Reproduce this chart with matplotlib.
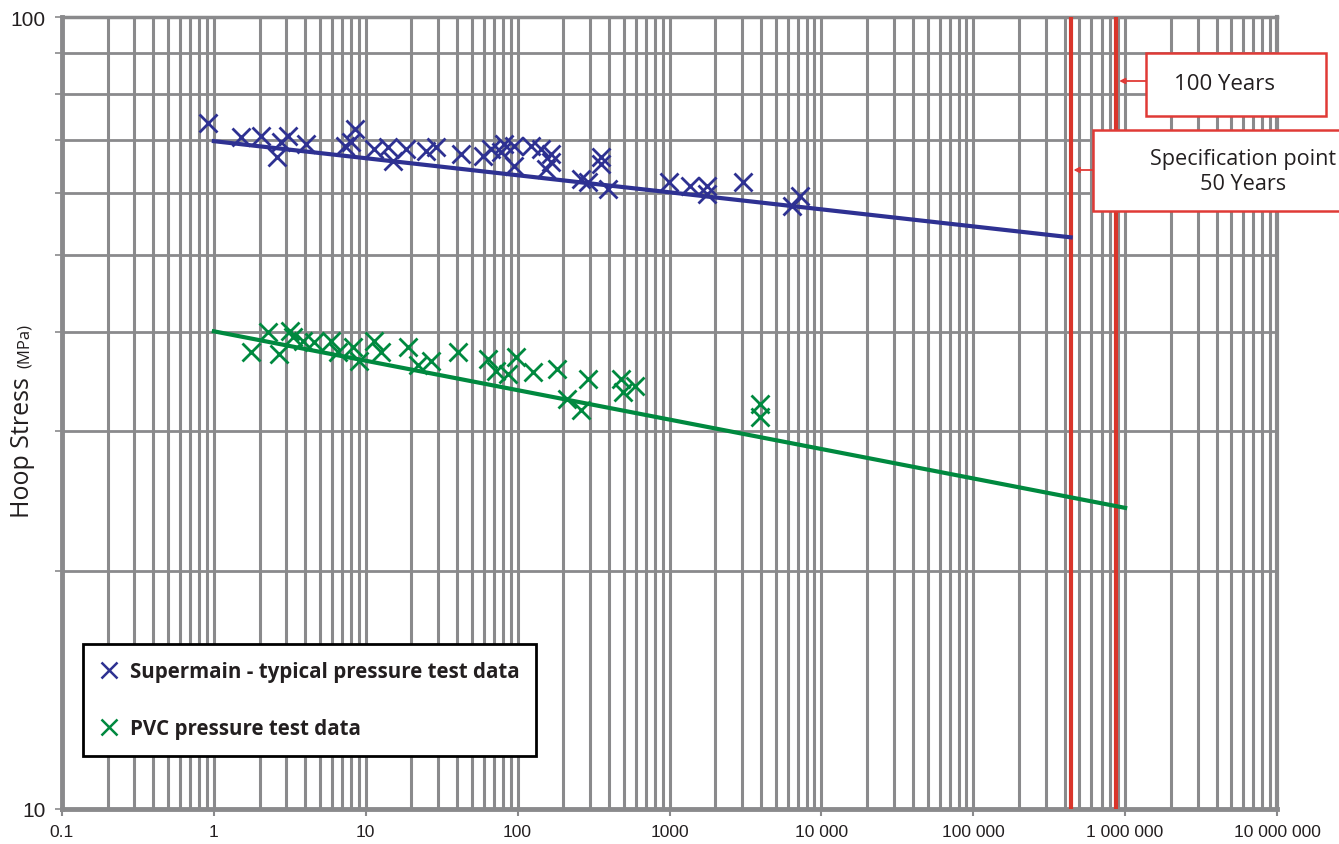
import matplotlib
matplotlib.use("Agg")
import matplotlib.pyplot as plt
from matplotlib.ticker import FixedLocator, FixedFormatter, NullFormatter
from matplotlib.patches import Rectangle
from matplotlib.lines import Line2D

# ---------------- data ----------------
supermain_hours = [0.91, 1.5, 2.04, 2.6, 2.76, 3.07, 4.03, 7.28, 7.97, 8.47,
                   11.3, 14.0, 15.1, 18.3, 24.8, 28.9, 42.2, 58.9, 66.4, 77.3,
                   80.9, 94.2, 94.2, 122, 142, 153, 165, 165, 260, 289,
                   352, 352, 391, 985, 1374, 1778, 1778, 3069, 6442, 7278]
supermain_stress = [73.5, 70.6, 70.8, 66.6, 69.5, 70.8, 69.1, 68.7, 69.5, 72.2,
                    68.1, 68.5, 65.8, 68.1, 67.7, 68.5, 67.1, 66.8, 68.1, 67.5,
                    69.1, 64.9, 68.7, 68.7, 68.1, 64.3, 67.1, 65.6, 62.5, 61.9,
                    66.6, 65.2, 60.7, 61.9, 61.2, 61.2, 59.8, 61.9, 57.7, 59.4]

pvc_hours = [1.75, 2.27, 2.68, 3.16, 3.31, 3.85, 4.55, 5.89, 6.54, 8.21,
             8.99, 11.3, 12.6, 18.9, 22.0, 26.8, 40.3, 63.5, 71.6, 85.9,
             97.0, 126, 181, 213, 260, 289, 476, 491, 597, 3971, 3971]
pvc_stress = [37.8, 40.0, 37.5, 40.1, 39.4, 39.0, 38.9, 39.0, 37.8, 38.3,
              36.8, 39.0, 37.8, 38.3, 36.4, 36.8, 37.8, 37.0, 35.7, 35.4,
              37.2, 35.6, 35.9, 32.9, 31.9, 34.9, 34.9, 33.6, 34.2, 32.5, 31.3]

supermain_fit_hours = [1, 438000]
supermain_fit_stress = [69.7, 52.7]
pvc_fit_hours = [1, 1000000]
pvc_fit_stress = [40.1, 24.0]

hours_50_years = 438000
hours_100_years = 876000

x_ticks = [0.1, 1, 10, 100, 1000, 1e4, 1e5, 1e6, 1e7]
x_tick_labels = ["0.1", "1", "10", "100", "1000", "10 000", "100 000",
                 "1 000 000", "10 000 000"]
x_minor = [m * 10.0 ** e for e in range(-1, 7) for m in range(2, 10)]
y_ticks = [10, 100]
y_tick_labels = ["10", "100"]
y_minor = [20, 30, 40, 50, 60, 70, 80, 90]

legend_labels = ["Supermain - typical pressure test data", "PVC pressure test data"]
y_label_main = "Hoop Stress "
y_label_unit = "(MPa)"
note_100 = "100 Years"
note_50 = "Specification point\n50 Years"

# ---------------- style ----------------
BLUE = "#2e3192"
GREEN = "#00893f"
RED = "#d9352b"
BOXRED = "#e03a36"
GRID = "#8a8a8c"
TEXT = "#231f20"
FONT = ["Open Sans", "DejaVu Sans"]
TICKFONT = ["Liberation Sans", "DejaVu Sans"]

W, H = 1339, 845
fig = plt.figure(figsize=(W / 100, H / 100), dpi=100)
fig.patch.set_facecolor("white")
ax = fig.add_axes([62 / W, 1 - 810 / H, (1277 - 62) / W, (810 - 18) / H])
ax.set_xscale("log")
ax.set_yscale("log")
ax.set_xlim(0.1, 1e7)
ax.set_ylim(10, 100)

ax.xaxis.set_major_locator(FixedLocator(x_ticks))
ax.xaxis.set_major_formatter(FixedFormatter(x_tick_labels))
ax.xaxis.set_minor_locator(FixedLocator(x_minor))
ax.xaxis.set_minor_formatter(NullFormatter())
ax.yaxis.set_major_locator(FixedLocator(y_ticks))
ax.yaxis.set_major_formatter(FixedFormatter(y_tick_labels))
ax.yaxis.set_minor_locator(FixedLocator(y_minor))
ax.yaxis.set_minor_formatter(NullFormatter())

ax.grid(True, which="both", axis="x", color=GRID, lw=2.2, zorder=0)
ax.grid(True, which="minor", axis="y", color=GRID, lw=2.0, zorder=0)
ax.set_axisbelow(True)

ax.tick_params(axis="x", which="major", length=5, width=1.5, color=GRID,
               pad=6, labelsize=12.5, labelcolor=TEXT)
ax.tick_params(axis="x", which="minor", length=0)
ax.tick_params(axis="y", which="both", length=5, width=1.2, color=GRID,
               pad=7, labelsize=15, labelcolor=TEXT)
for lab in ax.get_xticklabels() + ax.get_yticklabels():
    lab.set_family(TICKFONT)

for side, lw in (("left", 3.5), ("bottom", 3.5), ("top", 2.5), ("right", 3.0)):
    ax.spines[side].set_color(GRID)
    ax.spines[side].set_linewidth(lw)

# red reference lines
ax.axvline(hours_50_years, color=RED, lw=3.0, zorder=3)
ax.axvline(hours_100_years, color=RED, lw=3.0, zorder=3)

# fit lines
ax.plot(supermain_fit_hours, supermain_fit_stress, color=BLUE, lw=3.0, zorder=4)
ax.plot(pvc_fit_hours, pvc_fit_stress, color=GREEN, lw=3.0, zorder=4)

# data
ax.plot(supermain_hours, supermain_stress, ls="none", marker="x", ms=13.5,
        mew=2.0, color=BLUE, zorder=5)
ax.plot(pvc_hours, pvc_stress, ls="none", marker="x", ms=13.5,
        mew=2.0, color=GREEN, zorder=5)

# legend
handles = [Line2D([], [], ls="none", marker="x", ms=11.5, mew=1.8, color=BLUE),
           Line2D([], [], ls="none", marker="x", ms=11.5, mew=1.8, color=GREEN)]
leg = ax.legend(handles, legend_labels, loc="upper left",
                bbox_to_anchor=(83 / W, 1 - 645 / H), bbox_transform=fig.transFigure,
                frameon=True, fancybox=False, framealpha=1, edgecolor="black",
                borderpad=0.82, labelspacing=1.75, handlelength=0.9,
                handletextpad=0.55, borderaxespad=0,
                prop={"family": FONT, "weight": "bold", "size": 14.8})
leg.get_frame().set_linewidth(2.0)
for t in leg.get_texts():
    t.set_color(TEXT)

# y label (two sizes, shared baseline)
fig.text(29 / W, 1 - 518 / H, y_label_main, rotation=90, rotation_mode="anchor",
         ha="left", va="baseline", fontsize=18, family=FONT, color=TEXT)
fig.text(29 / W, 1 - 368 / H, y_label_unit, rotation=90, rotation_mode="anchor",
         ha="left", va="baseline", fontsize=12, family=FONT, color=TEXT)

# annotation boxes
def note_box(x0, y0, x1, y1, text, tx, ty, size):
    fig.add_artist(Rectangle((x0 / W, 1 - y1 / H), (x1 - x0) / W, (y1 - y0) / H,
                             transform=fig.transFigure, facecolor="white",
                             edgecolor=BOXRED, lw=1.8, zorder=10))
    fig.text(tx / W, 1 - ty / H, text, ha="center", va="center", fontsize=size,
             family=FONT, color=TEXT, zorder=11, linespacing=1.3)

note_box(1146, 54, 1326, 117, note_100, 1224, 84, 16)
note_box(1093, 131, 1400, 212, note_50, 1243, 172, 15.6)

arrow = dict(arrowstyle="-|>", color=BOXRED, lw=1.3, mutation_scale=8,
             shrinkA=0, shrinkB=2)
ax.annotate("", xy=(hours_100_years, 1 - 82 / H), xycoords=("data", "figure fraction"),
            xytext=(1146 / W, 1 - 82 / H), textcoords="figure fraction",
            arrowprops=arrow, zorder=12, annotation_clip=False)
ax.annotate("", xy=(hours_50_years, 1 - 171 / H), xycoords=("data", "figure fraction"),
            xytext=(1093 / W, 1 - 171 / H), textcoords="figure fraction",
            arrowprops=arrow, zorder=12, annotation_clip=False)

fig.savefig("out.png", dpi=100, facecolor="white")
